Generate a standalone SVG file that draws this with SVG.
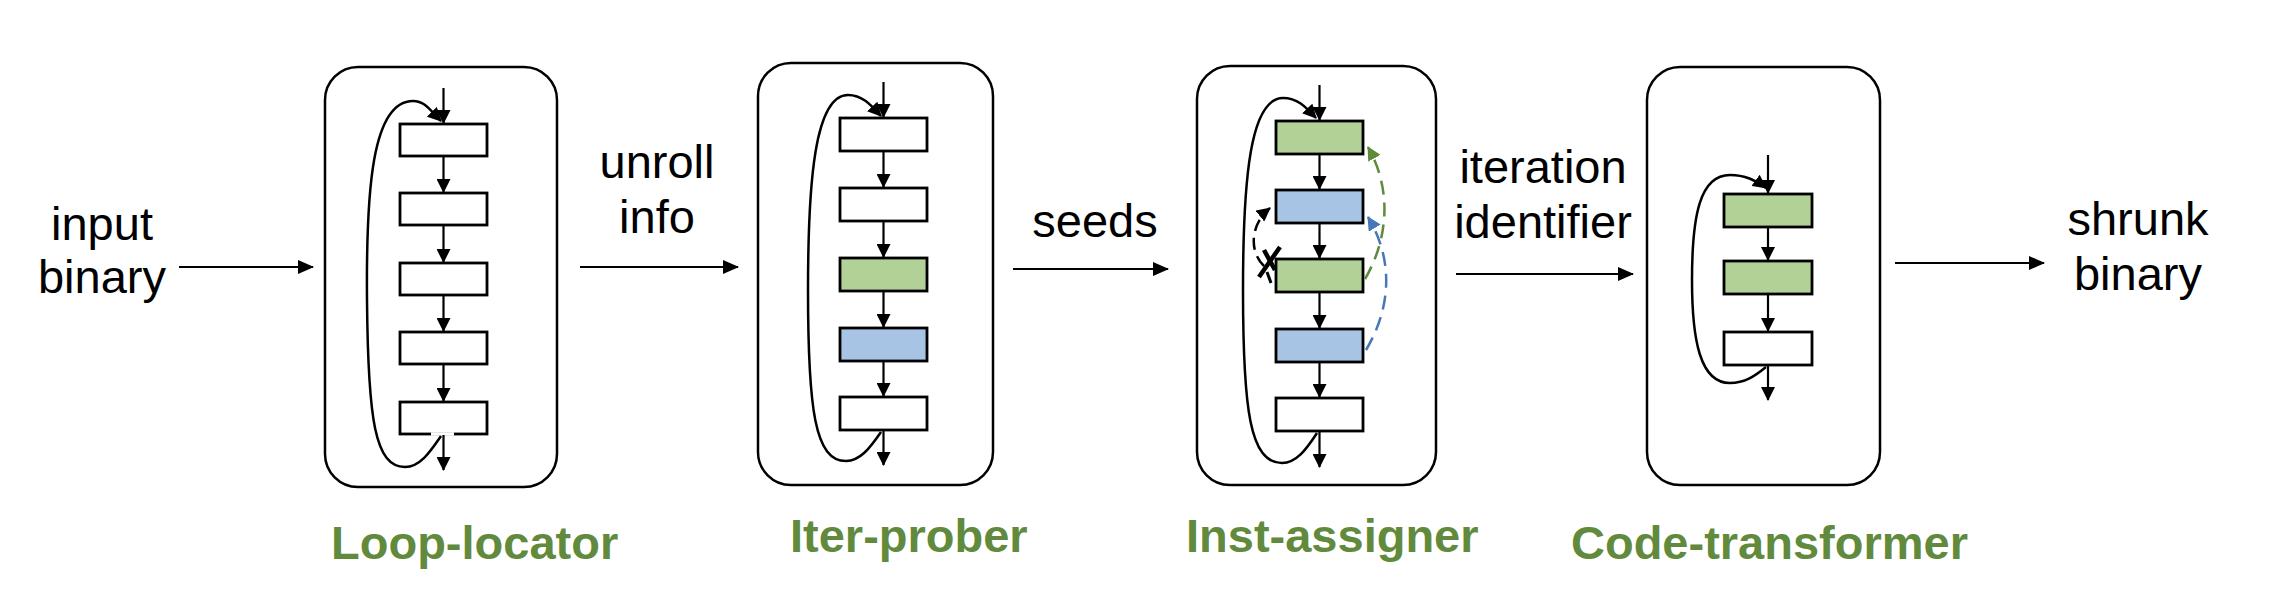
<svg xmlns="http://www.w3.org/2000/svg" width="2296" height="594" viewBox="0 0 2296 594">
<style>
.outer{fill:#fff;stroke:#000;stroke-width:2.5}
.blk{fill:#fff;stroke:#000;stroke-width:2.8}
.g{fill:#b2d196}
.b{fill:#a7c4e4}
.ar{fill:none;stroke:#000;stroke-width:2.2;marker-end:url(#ah)}
.lp{fill:none;stroke:#000;stroke-width:2.5;marker-end:url(#ah)}
.main{fill:none;stroke:#000;stroke-width:2.2;marker-end:url(#mh)}
.t{font-family:"Liberation Sans",Arial,sans-serif;font-size:47px;fill:#000;text-anchor:middle}
.lbl{font-family:"Liberation Sans",Arial,sans-serif;font-size:47px;font-weight:bold;fill:#618a3d}
</style>
<defs>
<marker id="ah" markerUnits="userSpaceOnUse" markerWidth="14" markerHeight="14" refX="13" refY="7" orient="auto"><path d="M0,0 L14,7 L0,14 z" fill="#000"/></marker>
<marker id="mh" markerUnits="userSpaceOnUse" markerWidth="16" markerHeight="14" refX="15" refY="7" orient="auto"><path d="M0,0 L16,7 L0,14 z" fill="#000"/></marker>
<marker id="gh" markerUnits="userSpaceOnUse" markerWidth="14" markerHeight="14" refX="13" refY="7" orient="auto"><path d="M0,0 L14,7 L0,14 z" fill="#5f8a3b"/></marker>
<marker id="bh" markerUnits="userSpaceOnUse" markerWidth="14" markerHeight="14" refX="13" refY="7" orient="auto"><path d="M0,0 L14,7 L0,14 z" fill="#4677b8"/></marker>
</defs>

<g id="loop-locator">
<rect class="outer" x="325" y="67" width="232" height="420" rx="33"/>
<rect class="blk" x="400" y="124" width="87" height="32"/>
<rect class="blk" x="400" y="193" width="87" height="32"/>
<rect class="blk" x="400" y="263" width="87" height="32"/>
<rect class="blk" x="400" y="332" width="87" height="32"/>
<rect class="blk" x="400" y="402" width="87" height="32"/>
<line x1="431" y1="434" x2="454" y2="434" stroke="#fff" stroke-width="3.5"/>
<line class="ar" x1="443.5" y1="88" x2="443.5" y2="123"/>
<line class="ar" x1="443.5" y1="157" x2="443.5" y2="192"/>
<line class="ar" x1="443.5" y1="226" x2="443.5" y2="262"/>
<line class="ar" x1="443.5" y1="296" x2="443.5" y2="331"/>
<line class="ar" x1="443.5" y1="365" x2="443.5" y2="401"/>
<line class="ar" x1="443.5" y1="435" x2="443.5" y2="470"/>
<path class="lp" d="M 441 436 C 430 452, 420 467, 405 467 C 375 467, 368 420, 367 300 C 366 190, 372 101, 413 101 C 425 101, 430 110, 441 121"/>
<text class="lbl" x="331" y="559">Loop-locator</text>
</g>

<g id="iter-prober">
<rect class="outer" x="758" y="63" width="235" height="422" rx="33"/>
<rect class="blk" x="840" y="118" width="87" height="33"/>
<rect class="blk" x="840" y="188" width="87" height="33"/>
<rect class="blk g" x="840" y="258" width="87" height="33"/>
<rect class="blk b" x="840" y="328" width="87" height="33"/>
<rect class="blk" x="840" y="397" width="87" height="33"/>
<line class="ar" x1="883.5" y1="82" x2="883.5" y2="117"/>
<line class="ar" x1="883.5" y1="152" x2="883.5" y2="187"/>
<line class="ar" x1="883.5" y1="222" x2="883.5" y2="257"/>
<line class="ar" x1="883.5" y1="292" x2="883.5" y2="327"/>
<line class="ar" x1="883.5" y1="362" x2="883.5" y2="396"/>
<line class="ar" x1="883.5" y1="431" x2="883.5" y2="465"/>
<path class="lp" d="M 881 432 C 870 448, 860 461, 846 461 C 815 461, 808 410, 808 290 C 808 180, 815 95, 848 95 C 862 95, 870 104, 881 116"/>
<text class="lbl" x="790" y="552">Iter-prober</text>
</g>

<g id="inst-assigner">
<rect class="outer" x="1197" y="66" width="239" height="419" rx="33"/>
<rect class="blk g" x="1276" y="121" width="87" height="33"/>
<rect class="blk b" x="1276" y="190" width="87" height="33"/>
<rect class="blk g" x="1276" y="259" width="87" height="33"/>
<rect class="blk b" x="1276" y="329" width="87" height="33"/>
<rect class="blk" x="1276" y="398" width="87" height="33"/>
<line class="ar" x1="1319.5" y1="85" x2="1319.5" y2="120"/>
<line class="ar" x1="1319.5" y1="155" x2="1319.5" y2="189"/>
<line class="ar" x1="1319.5" y1="224" x2="1319.5" y2="258"/>
<line class="ar" x1="1319.5" y1="293" x2="1319.5" y2="328"/>
<line class="ar" x1="1319.5" y1="363" x2="1319.5" y2="397"/>
<line class="ar" x1="1319.5" y1="432" x2="1319.5" y2="467"/>
<path class="lp" d="M 1317 433 C 1306 450, 1296 463, 1282 463 C 1250 463, 1243 410, 1243 290 C 1243 180, 1250 98, 1283 98 C 1297 98, 1305 106, 1316 118"/>
<path d="M 1365 279 C 1385 245, 1395 195, 1368 147" fill="none" stroke="#5f8a3b" stroke-width="2.5" stroke-dasharray="14 8" marker-end="url(#gh)"/>
<path d="M 1366 350 C 1390 310, 1395 262, 1368 217" fill="none" stroke="#4677b8" stroke-width="2.5" stroke-dasharray="14 8" marker-end="url(#bh)"/>
<path d="M 1264 266 C 1249 252, 1250 224, 1270 208" fill="none" stroke="#000" stroke-width="2.5" stroke-dasharray="12 7" marker-end="url(#ah)"/>
<line x1="1259" y1="277" x2="1280" y2="247" stroke="#000" stroke-width="4.5"/>
<line x1="1264" y1="250" x2="1275" y2="270" stroke="#000" stroke-width="4.5"/>
<line x1="1267" y1="272" x2="1271" y2="283" stroke="#000" stroke-width="3"/>
<text class="lbl" x="1186" y="552">Inst-assigner</text>
</g>

<g id="code-transformer">
<rect class="outer" x="1647" y="67" width="233" height="418" rx="33"/>
<rect class="blk g" x="1724" y="194" width="88" height="33"/>
<rect class="blk g" x="1724" y="261" width="88" height="33"/>
<rect class="blk" x="1724" y="332" width="88" height="33"/>
<line class="ar" x1="1768" y1="155" x2="1768" y2="193"/>
<line class="ar" x1="1768" y1="228" x2="1768" y2="260"/>
<line class="ar" x1="1768" y1="295" x2="1768" y2="331"/>
<line class="ar" x1="1768" y1="366" x2="1768" y2="400"/>
<path class="lp" d="M 1766 367 C 1755 376, 1745 383, 1730 383 C 1700 383, 1692 340, 1692 280 C 1692 215, 1700 175, 1730 175 C 1745 175, 1755 180, 1766 188"/>
<text class="lbl" x="1571" y="559">Code-transformer</text>
</g>

<g id="connectors">
<line class="main" x1="179" y1="267" x2="313" y2="267"/>
<line class="main" x1="580" y1="267" x2="738" y2="267"/>
<line class="main" x1="1013" y1="269" x2="1168" y2="269"/>
<line class="main" x1="1456" y1="274" x2="1633" y2="274"/>
<line class="main" x1="1895" y1="263" x2="2044" y2="263"/>
</g>

<g id="labels">
<text class="t" x="102" y="240">input</text>
<text class="t" x="102" y="293">binary</text>
<text class="t" x="657" y="178">unroll</text>
<text class="t" x="657" y="233">info</text>
<text class="t" x="1095" y="237">seeds</text>
<text class="t" x="1543" y="183">iteration</text>
<text class="t" x="1543" y="238">identifier</text>
<text class="t" x="2138" y="235">shrunk</text>
<text class="t" x="2138" y="290">binary</text>
</g>
</svg>
